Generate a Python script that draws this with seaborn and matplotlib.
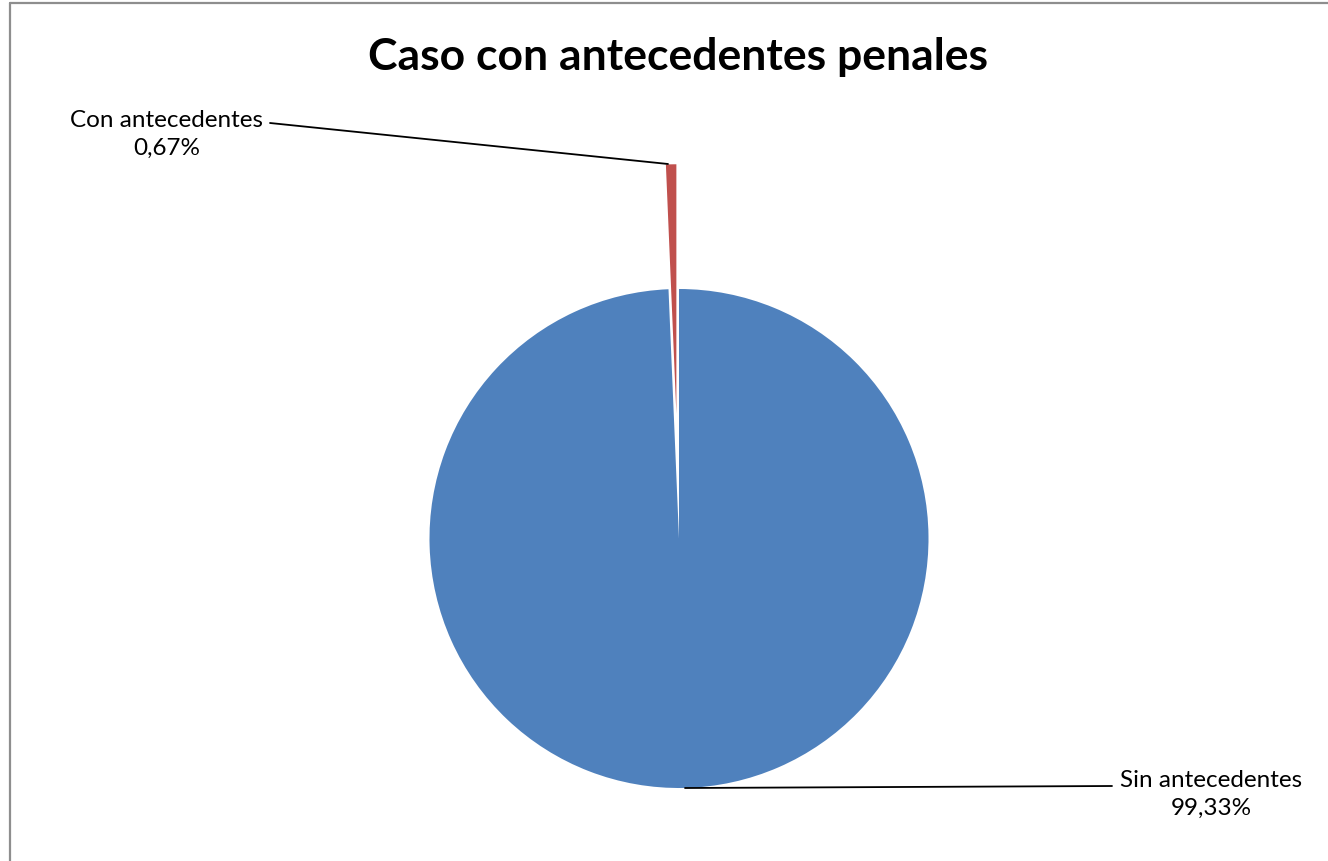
import matplotlib
matplotlib.use("Agg")
import matplotlib.pyplot as plt
import seaborn as sns

# data
categories = ["Sin antecedentes", "Con antecedentes"]
values = [99.33, 0.67]
value_labels = ["99,33%", "0,67%"]
title = "Caso con antecedentes penales"

colors = ["#4F81BD", "#C0504D"]

sns.set_theme(style="white")
plt.rcParams['font.family'] = ['Lato', 'DejaVu Sans']

W, H = 1328, 862
fig = plt.figure(figsize=(W / 100, H / 100), dpi=100)
ax = fig.add_axes([0, 0, 1, 1])
ax.set_xlim(0, W)
ax.set_ylim(0, H)
ax.set_aspect('equal')
ax.axis('off')


def py(y):
    # pixel row -> data y
    return H - y


radius = 249.5
center = (679, py(539.5))
wedges, _ = ax.pie(values, colors=colors, startangle=90, counterclock=False,
                   radius=radius, center=center, explode=[0, radius * 0.5],
                   wedgeprops=dict(linewidth=0), frame=True)
ax.set_xlim(0, W)
ax.set_ylim(0, H)
ax.axis('off')

# labels with leader lines
label_pos = [(1211, py(794)), (167, py(134))]
line_ends = [((1112, py(787)), (685, py(789))), ((270, py(124)), (668, py(165)))]
for cat, vl, (tx, ty), (p0, p1) in zip(categories, value_labels, label_pos, line_ends):
    ax.text(tx, ty, "{}\n{}".format(cat, vl), ha='center', va='center',
            fontsize=17.5, color='black', linespacing=1.4)
    ax.plot([p0[0], p1[0]], [p0[1], p1[1]], color='black', lw=1.3)

ax.text(678, py(57), title, ha='center', va='center', fontsize=32,
        fontweight='bold', color='black')

# chart area border
ax.plot([10, 10], [0, py(4)], color='#8e8e8e', lw=1.6, clip_on=False)
ax.plot([10, W], [py(4), py(4)], color='#8e8e8e', lw=1.6, clip_on=False)

fig.savefig('out.png', dpi=100, facecolor='white')
